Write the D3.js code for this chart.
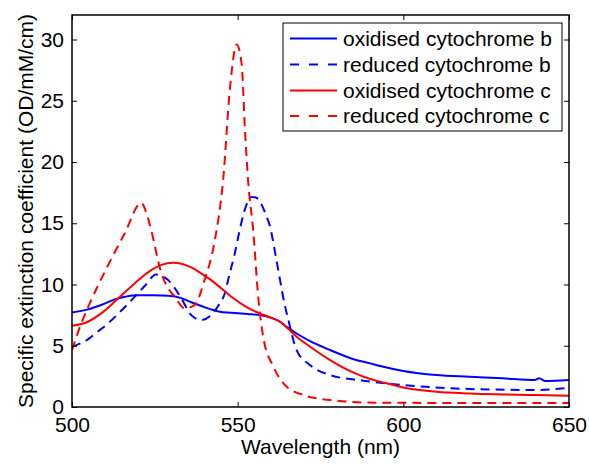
<!DOCTYPE html>
<html><head><meta charset="utf-8">
<script src="https://cdn.jsdelivr.net/npm/d3@7/dist/d3.min.js"></script>
<style>body{margin:0;background:#fff}svg{display:block}text{font-family:"Liberation Sans",Arial,Helvetica,sans-serif}</style>
</head><body><svg id="c" width="589" height="465"></svg>
<script>
const seriesNames = ["oxidised cytochrome b","reduced cytochrome b","oxidised cytochrome c","reduced cytochrome c"];
const seriesColors = ["#0000ff","#0000ff","#ff0000","#ff0000"];
const seriesDashed = [false,true,false,true];
const xTicks = [500,550,600,650];
const yTicks = [0,5,10,15,20,25,30];

const oxBWl  = [500,504.8,509,512.9,516,519.4,524,529,533,536,539,544.6,548,553,556.7,560,562.8,565,567.8,572,577.9,585,590,593,600,610,620,630,639.7,641,642.8,650];
const oxBVal = [7.72,7.97,8.35,8.78,9.0,9.13,9.12,9.08,8.89,8.55,8.24,7.78,7.70,7.59,7.5,7.3,6.96,6.5,6.0,5.35,4.65,3.9,3.56,3.34,2.94,2.61,2.47,2.34,2.2,2.34,2.12,2.2];

const redBWl  = [500,504.8,508,510.9,515,518.9,522,525.4,527,529,531,533,536,539,542,544,546.1,547.5,549.1,550.5,552.1,554.2,555.5,557.3,558.5,559.8,561.3,562.8,564,565.3,567.8,571.8,577.9,587.9,600,620,640,650];
const redBVal = [4.92,5.52,6.2,6.83,7.9,9.0,9.9,10.82,10.7,10.36,9.7,8.86,7.5,7.1,7.5,8.2,9.27,10.8,12.5,14.3,16.07,17.15,17.1,16.48,15.7,14.7,12.6,10.36,8.6,7.1,4.65,3.43,2.61,2.15,1.79,1.47,1.39,1.57];

const oxCWl  = [500,504.8,508.8,513.9,518.9,523.9,527,530.5,533,536,539,542,545,548.1,553.1,556.7,560,562.8,565,567.8,572,577.9,585,590,593,600,610,620,630,640,650];
const oxCVal = [6.63,6.96,7.64,8.86,10.09,11.17,11.6,11.77,11.7,11.39,10.9,10.36,9.7,9.0,8.1,7.64,7.3,6.96,6.45,5.74,4.9,3.83,2.8,2.28,2.07,1.6,1.25,1.11,1.03,0.97,0.92];

const redCWl  = [500,502.8,505.8,510.9,515.9,520.9,522.5,523.9,527,529,531,534,537,540,543.1,545.6,547.7,549.7,551.2,552.2,553.2,554.7,556.2,557.7,560.8,563.8,569.8,577.9,592,620,650];
const redCVal = [4.65,6.83,8.73,11.58,14.17,16.66,15.8,14.44,10.9,9.7,9.0,8.05,8.32,10.36,13.6,18.5,26.1,29.6,28.0,22.6,18.3,14.4,9.0,5.74,3.29,1.93,0.98,0.57,0.35,0.33,0.33];

const seriesWl = [oxBWl,redBWl,oxCWl,redCWl];
const seriesVal = [oxBVal,redBVal,oxCVal,redCVal];

const FS = 21;
const svg = d3.select("#c");
const L=72, R=569, T=15, B=407;
const x = d3.scaleLinear().domain([500,650]).range([L,R]);
const y = d3.scaleLinear().domain([0,32]).range([B,T]);

svg.append("clipPath").attr("id","pc").append("rect").attr("x",L).attr("y",T).attr("width",R-L).attr("height",B-T);

const line = d3.line().x(d=>x(d[0])).y(d=>y(d[1])).curve(d3.curveMonotoneX);
const g = svg.append("g").attr("clip-path","url(#pc)");
seriesNames.forEach((n,i)=>{
  const pts = seriesWl[i].map((w,j)=>[w,seriesVal[i][j]]);
  g.append("path").attr("d",line(pts)).attr("fill","none").attr("stroke",seriesColors[i])
   .attr("stroke-width",2).attr("stroke-dasharray",seriesDashed[i]?"9,6":null);
});

function styleAxis(sel, labels){
  sel.select(".domain").remove();
  sel.selectAll(".tick line").attr("stroke","#000").attr("stroke-width",1);
  sel.selectAll("text").attr("font-size",FS).attr("fill","#000");
  if(!labels) sel.selectAll("text").remove();
}
const ax1 = svg.append("g").attr("transform",`translate(0,${B})`).call(d3.axisBottom(x).tickValues(xTicks).tickSize(-5).tickPadding(10).tickFormat(d3.format("d")));
styleAxis(ax1,true);
const ax2 = svg.append("g").attr("transform",`translate(0,${T})`).call(d3.axisTop(x).tickValues(xTicks).tickSize(-5));
styleAxis(ax2,false);
const ay1 = svg.append("g").attr("transform",`translate(${L},0)`).call(d3.axisLeft(y).tickValues(yTicks).tickSize(-5).tickPadding(8).tickFormat(d3.format("d")));
styleAxis(ay1,true);
const ay2 = svg.append("g").attr("transform",`translate(${R},0)`).call(d3.axisRight(y).tickValues(yTicks).tickSize(-5));
styleAxis(ay2,false);

svg.append("rect").attr("x",L).attr("y",T).attr("width",R-L).attr("height",B-T).attr("fill","none").attr("stroke","#000").attr("stroke-width",1.5);

svg.append("text").attr("x",(L+R)/2).attr("y",454).attr("text-anchor","middle").attr("font-size",FS).text("Wavelength (nm)");
svg.append("text").attr("transform",`translate(33,${(T+B)/2}) rotate(-90)`).attr("text-anchor","middle").attr("font-size",FS).text("Specific extinction coefficient (OD/mM/cm)");

// legend
const lg = svg.append("g");
lg.append("rect").attr("x",283).attr("y",23).attr("width",279).attr("height",108).attr("fill","#fff").attr("stroke","#000").attr("stroke-width",1);
const rows=[38.5,64.5,90.5,116];
seriesNames.forEach((n,i)=>{
  lg.append("line").attr("x1",290).attr("x2",337).attr("y1",rows[i]).attr("y2",rows[i]).attr("stroke",seriesColors[i]).attr("stroke-width",2).attr("stroke-dasharray",seriesDashed[i]?"9,10":null);
  lg.append("text").attr("x",343).attr("y",rows[i]).attr("dy","0.35em").attr("font-size",FS).text(n);
});
</script></body></html>
